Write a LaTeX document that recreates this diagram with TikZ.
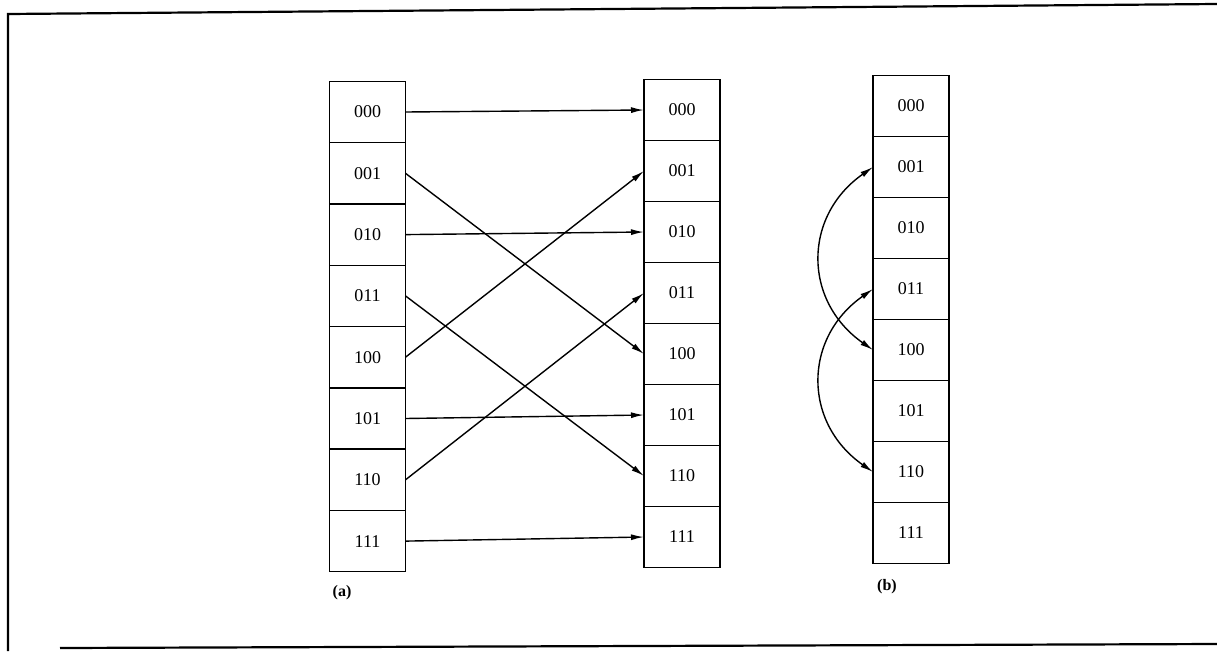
\documentclass[tikz,border=0pt]{standalone}
\usepackage{fontspec}
\setmainfont{Liberation Serif}
\usetikzlibrary{arrows.meta}
\begin{document}
\begin{tikzpicture}[x=1pt,y=-1pt,
  cell/.style={draw, line width=1.4pt, minimum width=76pt, minimum height=61.3pt, inner sep=0pt, font=\fontsize{18}{18}\selectfont, outer sep=0pt},
  arr/.style={line width=1.4pt, -{Latex[length=13pt,width=6pt]}},
  darr/.style={line width=1.4pt, {Latex[length=13pt,width=6pt]}-{Latex[length=13pt,width=6pt]}},
  lab/.style={font=\fontsize{16}{16}\selectfont\bfseries}]
\useasboundingbox (0,0) rectangle (1217,651);
% frame
\draw[line width=2.2pt] (1217,4) -- (8,14) -- (8,651);
\draw[line width=2.2pt] (60,648) -- (1217,644);
% column a
\foreach \t [count=\i from 0] in {000,001,010,011,100,101,110,111}
  \node[cell] (a\i) at (367.5,{112+61.3*\i}) {\t};
% column b
\foreach \t [count=\i from 0] in {000,001,010,011,100,101,110,111}
  \node[cell] (b\i) at (682,{110+61*\i}) {\t};
% column c
\foreach \t [count=\i from 0] in {000,001,010,011,100,101,110,111}
  \node[cell] (c\i) at (911,{106+61*\i}) {\t};
\node[lab] (la) at (342,593) {(a)};
\node[lab] (lb) at (887,587) {(b)};
% arrows a -> b
\draw[arr] (a0.east) -- (b0.west);
\draw[arr] (a1.east) -- (b4.west);
\draw[arr] (a2.east) -- (b2.west);
\draw[arr] (a3.east) -- (b6.west);
\draw[arr] (a4.east) -- (b1.west);
\draw[arr] (a5.east) -- (b5.west);
\draw[arr] (a6.east) -- (b3.west);
\draw[arr] (a7.east) -- (b7.west);
% swaps in c
\draw[darr] (c1.west) to[out=215,in=145,looseness=1.2] (c4.west);
\draw[darr] (c3.west) to[out=215,in=145,looseness=1.2] (c6.west);
\end{tikzpicture}
\end{document}
